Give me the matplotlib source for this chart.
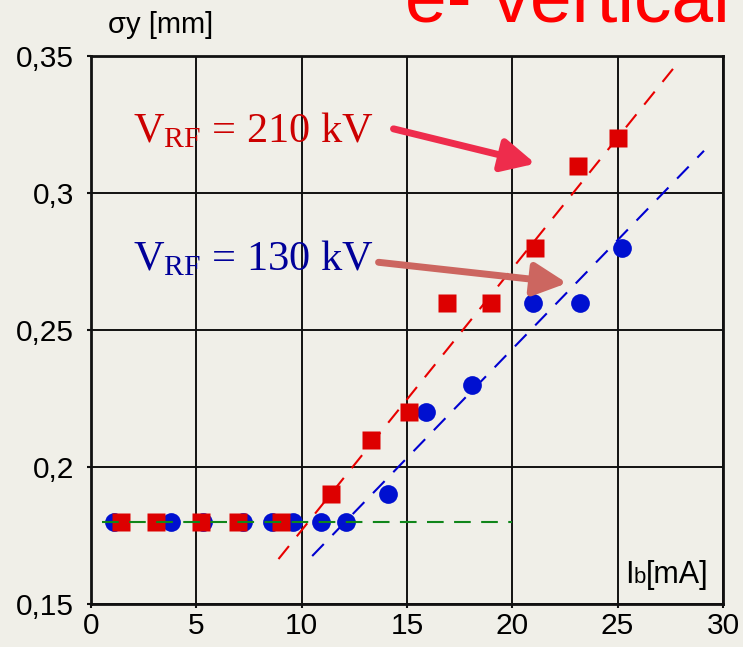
import matplotlib.pyplot as plt
from matplotlib.offsetbox import TextArea, HPacker, AnchoredOffsetbox

plt.rcParams['font.family'] = ['Liberation Sans', 'DejaVu Sans']
plt.rcParams['mathtext.fontset'] = 'custom'
plt.rcParams['mathtext.rm'] = 'Liberation Serif'
plt.rcParams['mathtext.it'] = 'Liberation Serif:italic'

# V_RF = 210 kV (red squares)
ib_210 = [1.4, 3.1, 5.2, 7.0, 9.0, 11.4, 13.3, 15.1, 16.9, 19.0, 21.1, 23.1, 25.0]
sy_210 = [0.18, 0.18, 0.18, 0.18, 0.18, 0.19, 0.21, 0.22, 0.26, 0.26, 0.28, 0.31, 0.32]

# V_RF = 130 kV (blue circles)
ib_130 = [1.1, 3.8, 5.3, 7.2, 8.6, 9.6, 10.9, 12.1, 14.1, 15.9, 18.1, 21.0, 23.2, 25.2]
sy_130 = [0.18, 0.18, 0.18, 0.18, 0.18, 0.18, 0.18, 0.18, 0.19, 0.22, 0.23, 0.26, 0.26, 0.28]

# dashed guide lines (end points)
fit_210_x = [8.9, 27.85]
fit_210_y = [0.1664, 0.3474]
fit_130_x = [10.5, 29.1]
fit_130_y = [0.1675, 0.3154]
flat_x = [0.5, 20.0]
flat_y = [0.18, 0.18]

xticks = [0, 5, 10, 15, 20, 25, 30]
yticks = [0.15, 0.2, 0.25, 0.3, 0.35]
ylabels = ['0,15', '0,2', '0,25', '0,3', '0,35']

bg = '#F0EFE8'
fig = plt.figure(figsize=(7.43, 6.47), dpi=100, facecolor=bg)
ax = fig.add_axes([0.1225, 0.0665, 0.8505, 0.847], facecolor=bg)

ax.plot(fit_210_x, fit_210_y, color='#E80000', lw=1.5, dashes=(8, 6), zorder=2)
ax.plot(fit_130_x, fit_130_y, color='#0000D0', lw=1.5, dashes=(8, 6), zorder=2)
ax.plot(ib_130, sy_130, 'o', color='#0010D0', ms=13.5, mec='none', zorder=3)
ax.plot(ib_210, sy_210, 's', color='#DD0000', ms=13, mec='none', zorder=4)
ax.plot(flat_x, flat_y, color='#10861A', lw=1.5, dashes=(8, 5), zorder=5)

ax.set_xlim(0, 30)
ax.set_ylim(0.15, 0.35)
ax.set_xticks(xticks)
ax.set_yticks(yticks)
ax.set_yticklabels(ylabels)
ax.tick_params(labelsize=21.5, length=3, width=1.5, color='#111111')
ax.tick_params(axis='x', pad=3)
ax.tick_params(axis='y', pad=9)
ax.grid(True, color='#111111', lw=1.4)
ax.set_axisbelow(True)
for s in ax.spines.values():
    s.set_linewidth(2)
    s.set_color('#111111')

ax.text(2.0, 0.3186, r'$\mathrm{V}_{\mathrm{RF}}$ = 210 kV', color='#CC0000',
        fontsize=30.5, family='Liberation Serif', zorder=1)
ax.text(2.0, 0.2719, r'$\mathrm{V}_{\mathrm{RF}}$ = 130 kV', color='#000099',
        fontsize=30.5, family='Liberation Serif', zorder=1)

ax.annotate('', xy=(21.1, 0.3107), xytext=(14.36, 0.3234),
            arrowprops=dict(arrowstyle='-|>,head_length=1.0,head_width=0.5',
                            color='#EE2C4C', lw=5, mutation_scale=20,
                            shrinkA=0, shrinkB=0), zorder=6)
ax.annotate('', xy=(22.6, 0.2671), xytext=(13.65, 0.2747),
            arrowprops=dict(arrowstyle='-|>,head_length=1.0,head_width=0.5',
                            color='#CC6660', lw=5, mutation_scale=20,
                            shrinkA=0, shrinkB=0), zorder=6)

# x-axis label inside the plot
box = HPacker(children=[TextArea('I', textprops=dict(fontsize=22)),
                        TextArea('b', textprops=dict(fontsize=16)),
                        TextArea('[mA]', textprops=dict(fontsize=22))],
              align='baseline', pad=0, sep=0)
anch = AnchoredOffsetbox(loc='lower right', child=box, frameon=False,
                         bbox_to_anchor=(0.99, 0.01), bbox_transform=ax.transAxes,
                         borderpad=0.2)
ax.add_artist(anch)

fig.text(0.145, 0.949, 'σy [mm]', fontsize=21, va='baseline')
fig.text(0.545, 0.966, 'e- vertical', fontsize=54, color='#FF0000', va='baseline')

fig.savefig('out.png', dpi=100, facecolor=bg)
